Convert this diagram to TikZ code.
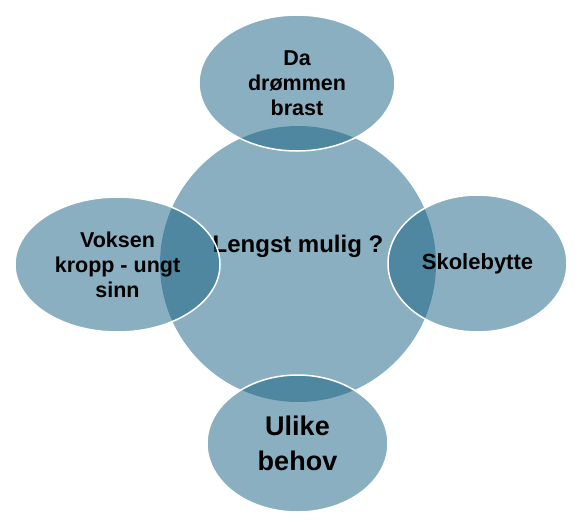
\documentclass[tikz,border=0pt]{standalone}
\usepackage{fontspec}
\setmainfont{Liberation Sans}
\usetikzlibrary{shapes.geometric}
\definecolor{hub}{HTML}{156082}
\tikzset{
  hubshape/.style={circle, fill=hub, fill opacity=0.5, inner sep=0pt, minimum size=276pt},
  blob/.style={ellipse, fill=hub, fill opacity=0.5, text opacity=1, draw=white, draw opacity=1,
    line width=1.5pt, inner sep=0pt, align=center, text=black,
    font=\bfseries\fontsize{21.5}{25}\selectfont},
  hubtext/.style={font=\bfseries\fontsize{24}{28}\selectfont, text=black, inner sep=0pt, anchor=base}
}
\begin{document}
\begin{tikzpicture}[x=1pt,y=-1pt]
\useasboundingbox (0,0) rectangle (581,528);
\node[hubshape] (hub) at (298,264) {};
\node[hubtext] (hubtxt) at (298,252) {Lengst mulig ?};
\node[blob, minimum width=196pt, minimum height=136pt] (top) at (297,83) {Da\\drømmen\\brast};
\node[blob, minimum width=205pt, minimum height=135pt] (left) at (117.5,264.5) {Voksen\\kropp - ungt\\sinn};
\node[blob, minimum width=179pt, minimum height=137pt, font=\bfseries\fontsize{22}{26}\selectfont] (right) at (477.5,263.5) {Skolebytte};
\node[blob, minimum width=181pt, minimum height=137pt, font=\bfseries\fontsize{27}{35}\selectfont] (bottom) at (297.5,443.5) {Ulike\\behov};
\end{tikzpicture}
\end{document}
